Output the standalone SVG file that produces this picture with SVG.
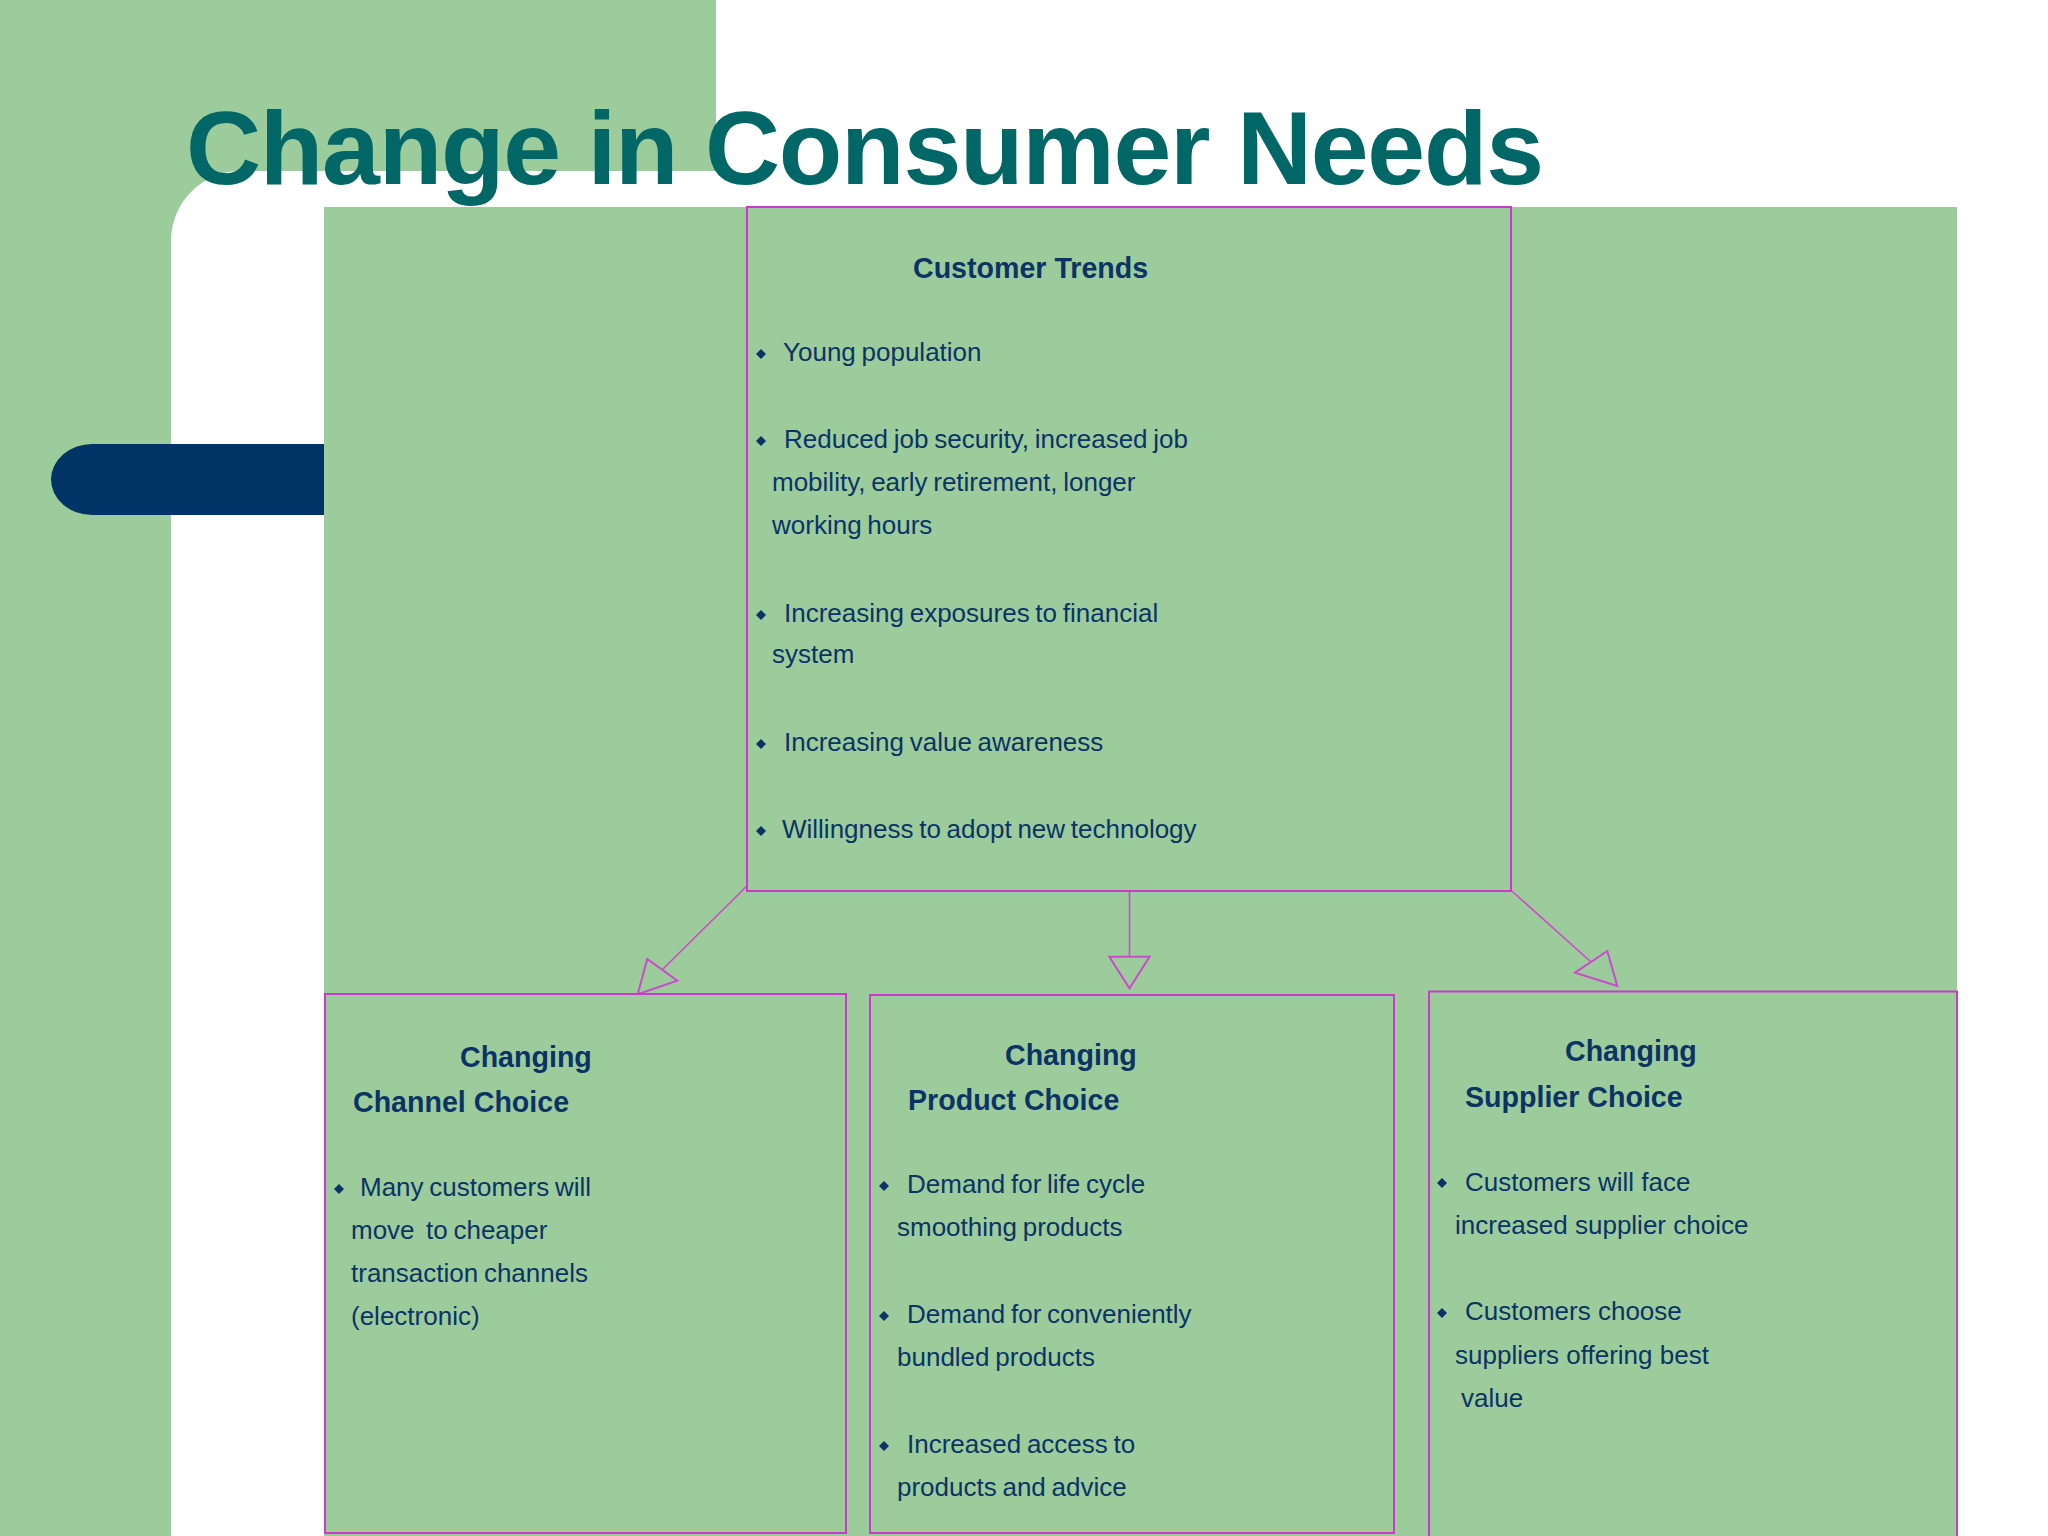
<svg xmlns="http://www.w3.org/2000/svg" width="2048" height="1536" viewBox="0 0 2048 1536">
  <defs>
    <style>
      .bg-green { fill: #9CCC9C; }
      .box { fill: #9CCC9C; stroke: #CC3ACC; stroke-width: 2; }
      .conn { fill: none; stroke: #CC4ACC; stroke-width: 1.6; }
      .head { fill: #9CCC9C; stroke: #CC4ACC; stroke-width: 2; stroke-linejoin: miter; }
      .title { font-family: "Liberation Sans", Arial, sans-serif; font-weight: bold; font-size: 104px; fill: #006666; }
      .h { font-family: "Liberation Sans", Arial, sans-serif; font-weight: bold; font-size: 28.6px; fill: #0B3366; }
      .t { font-family: "Liberation Sans", Arial, sans-serif; font-size: 26px; fill: #0B3366; word-spacing: -1.5px; }
      .b { fill: #0B3366; }
    </style>
    <path id="dia" d="M0,-5 L5,0 L0,5 L-5,0 Z"/>
  </defs>

  <!-- background -->
  <rect x="0" y="0" width="2048" height="1536" fill="#FFFFFF"/>
  <path class="bg-green" d="M0,0 H716 V171 H241 A70,70 0 0 0 171,241 V1536 H0 Z"/>
  <path fill="#003366" d="M330,444 H92 A41,35.5 0 0 0 92,515 H330 Z"/>
  <rect class="bg-green" x="324" y="207" width="1633" height="1329"/>

  <text class="title" x="186" y="184" textLength="1358" lengthAdjust="spacing">Change in Consumer Needs</text>

  <!-- connectors -->
  <g id="connectors">
    <line class="conn" x1="757" y1="876" x2="662.5" y2="969.5"/>
    <polygon class="head" points="647.3,959 677.3,980.7 637.7,994.3"/>
    <line class="conn" x1="1129.5" y1="885" x2="1129.5" y2="956.7"/>
    <polygon class="head" points="1109.3,956.7 1149.5,956.7 1129.5,988.3"/>
    <line class="conn" x1="1494" y1="875" x2="1591" y2="962"/>
    <polygon class="head" points="1575,972.7 1607.3,951 1617.3,986"/>
  </g>

  <!-- Customer Trends -->
  <g id="customer-trends">
    <rect class="box" x="747" y="207" width="764" height="684"/>
    <text class="h" x="913" y="278">Customer Trends</text>
    <use href="#dia" class="b" x="761" y="354"/>
    <text class="t" x="783" y="361">Young population</text>
    <use href="#dia" class="b" x="761" y="441"/>
    <text class="t" x="784" y="448">Reduced job security, increased job</text>
    <text class="t" x="772" y="491">mobility, early retirement, longer</text>
    <text class="t" x="772" y="534">working hours</text>
    <use href="#dia" class="b" x="761" y="615"/>
    <text class="t" x="784" y="622">Increasing exposures to financial</text>
    <text class="t" x="772" y="663">system</text>
    <use href="#dia" class="b" x="761" y="744"/>
    <text class="t" x="784" y="751">Increasing value awareness</text>
    <use href="#dia" class="b" x="761" y="831"/>
    <text class="t" x="782" y="838">Willingness to adopt new technology</text>
  </g>

  <!-- Changing Channel Choice -->
  <g id="channel-choice">
    <rect class="box" x="325" y="994" width="521" height="539"/>
    <text class="h" x="460" y="1067">Changing</text>
    <text class="h" x="353" y="1112">Channel Choice</text>
    <use href="#dia" class="b" x="339" y="1189"/>
    <text class="t" x="360" y="1196">Many customers will</text>
    <text class="t" x="351" y="1239" xml:space="preserve">move  to cheaper</text>
    <text class="t" x="351" y="1282">transaction channels</text>
    <text class="t" x="351" y="1325">(electronic)</text>
  </g>

  <!-- Changing Product Choice -->
  <g id="product-choice">
    <rect class="box" x="870" y="995" width="524" height="538"/>
    <text class="h" x="1005" y="1065">Changing</text>
    <text class="h" x="908" y="1110">Product Choice</text>
    <use href="#dia" class="b" x="884" y="1186"/>
    <text class="t" x="907" y="1193">Demand for life cycle</text>
    <text class="t" x="897" y="1236">smoothing products</text>
    <use href="#dia" class="b" x="884" y="1316"/>
    <text class="t" x="907" y="1323">Demand for conveniently</text>
    <text class="t" x="897" y="1366">bundled products</text>
    <use href="#dia" class="b" x="884" y="1446"/>
    <text class="t" x="907" y="1453">Increased access to</text>
    <text class="t" x="897" y="1496">products and advice</text>
  </g>

  <!-- Changing Supplier Choice -->
  <g id="supplier-choice">
    <rect class="box" x="1429" y="991.5" width="528" height="560"/>
    <text class="h" x="1565" y="1061">Changing</text>
    <text class="h" x="1465" y="1107">Supplier Choice</text>
    <use href="#dia" class="b" x="1442" y="1183"/>
    <text class="t" x="1465" y="1191" style="word-spacing:0">Customers will face</text>
    <text class="t" x="1455" y="1234" style="word-spacing:0">increased supplier choice</text>
    <use href="#dia" class="b" x="1442" y="1313"/>
    <text class="t" x="1465" y="1320" style="word-spacing:0">Customers choose</text>
    <text class="t" x="1455" y="1364" style="word-spacing:0">suppliers offering best</text>
    <text class="t" x="1461" y="1407" style="word-spacing:0">value</text>
  </g>
</svg>
